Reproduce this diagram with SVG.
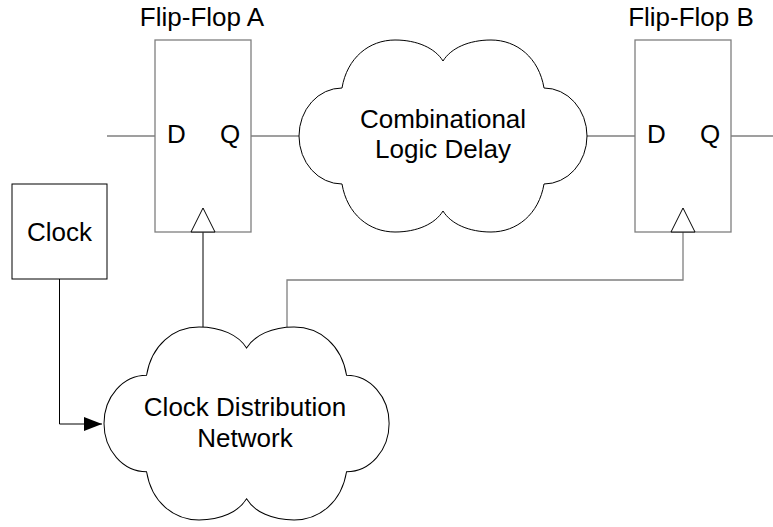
<svg xmlns="http://www.w3.org/2000/svg" xmlns:xlink="http://www.w3.org/1999/xlink" width="773" height="527" viewBox="0 0 773 527">
  <style>
    text { font-family: "Liberation Sans", Arial, sans-serif; font-size: 26px; fill: #000; }
    .mid { text-anchor: middle; }
    .ff { fill: #fff; stroke: #7f7f7f; stroke-width: 1.3; }
    .clk { fill: #fff; stroke: #000; stroke-width: 1; }
    .cloud { fill: #fff; stroke: #000; stroke-width: 1; }
    .wire { fill: none; stroke: #7f7f7f; stroke-width: 1.3; }
    .wire-k { fill: none; stroke: #000; stroke-width: 1; }
  </style>
  <defs>
    <!-- cloud outline, 288 x 192 local box -->
    <path id="cloud-shape" d="M 43 144 A 43 48 0 0 1 43 48 C 48 18 70 0 96 0 C 118 0 136 8 144 21 C 152 8 170 0 192 0 C 218 0 240 18 245 48 A 43 48 0 0 1 245 144 C 240 174 218 192 192 192 C 170 192 152 184 144 171 C 136 184 118 192 96 192 C 70 192 48 174 43 144 Z"/>
    <marker id="arrow" markerWidth="18" markerHeight="14" refX="18" refY="7" orient="auto" markerUnits="userSpaceOnUse">
      <path d="M 0 0 L 18 7 L 0 14 Z" fill="#000"/>
    </marker>
  </defs>

  <!-- connectors -->
  <g id="connectors">
    <line class="wire" x1="107" y1="136" x2="155" y2="136"/>
    <line class="wire" x1="251" y1="136" x2="299" y2="136"/>
    <line class="wire" x1="587" y1="136" x2="635" y2="136"/>
    <line class="wire" x1="731" y1="136" x2="773" y2="136"/>
    <line class="wire-k" x1="203" y1="232" x2="203" y2="327"/>
    <polyline class="wire" points="287,327 287,280 683,280 683,232"/>
    <polyline class="wire-k" points="59.5,279 59.5,424 102,424" marker-end="url(#arrow)"/>
  </g>

  <!-- flip-flop A -->
  <g id="flipflop-a">
    <rect class="ff" x="155" y="40" width="96" height="192"/>
    <polygon class="clk" points="191,232 203,208 215,232"/>
    <text x="167" y="143">D</text>
    <text x="220" y="143">Q</text>
    <text class="mid" x="202" y="26">Flip-Flop A</text>
  </g>

  <!-- flip-flop B -->
  <g id="flipflop-b">
    <rect class="ff" x="635" y="40" width="96" height="192"/>
    <polygon class="clk" points="671,232 683,208 695,232"/>
    <text x="647" y="143">D</text>
    <text x="700" y="143">Q</text>
    <text class="mid" x="691" y="26">Flip-Flop B</text>
  </g>

  <!-- combinational logic cloud -->
  <g id="logic-delay">
    <use xlink:href="#cloud-shape" class="cloud" transform="translate(299,40)"/>
    <text class="mid" x="443" y="128">Combinational</text>
    <text class="mid" x="443" y="158">Logic Delay</text>
  </g>

  <!-- clock source -->
  <g id="clock">
    <rect class="clk" x="12" y="184" width="95" height="95"/>
    <text class="mid" x="59.5" y="241">Clock</text>
  </g>

  <!-- clock distribution cloud -->
  <g id="clock-network">
    <use xlink:href="#cloud-shape" class="cloud" transform="translate(104,327) scale(0.99,1.005)"/>
    <text class="mid" x="245" y="416">Clock Distribution</text>
    <text class="mid" x="245" y="447">Network</text>
  </g>
</svg>
